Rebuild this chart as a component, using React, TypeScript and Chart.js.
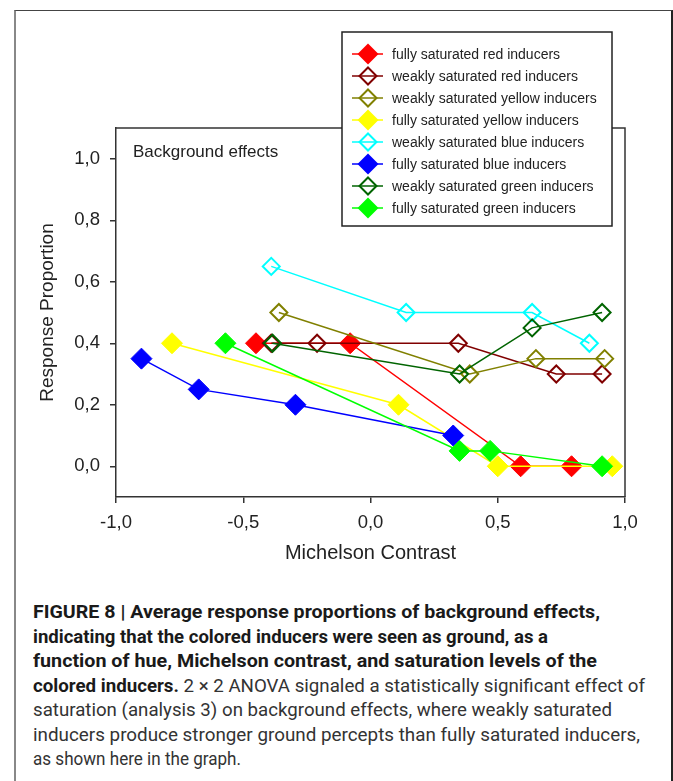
import React, { useEffect, useLayoutEffect, useRef } from 'react';
import { Chart, registerables } from 'chart.js';

Chart.register(...registerables);

// ---------- data ----------
const seriesLabels = [
  'fully saturated red inducers',
  'weakly saturated red inducers',
  'weakly saturated yellow inducers',
  'fully saturated yellow inducers',
  'weakly saturated blue inducers',
  'fully saturated blue inducers',
  'weakly saturated green inducers',
  'fully saturated green inducers',
];
const seriesColors = ['#ff0000', '#800000', '#808000', '#ffff00', '#00ffff', '#0000ff', '#006400', '#00ff00'];
const seriesFilled = [true, false, false, true, false, true, false, true];

const redFullX = [-0.45, -0.08, 0.59, 0.79];
const redFullY = [0.4, 0.4, 0.0, 0.0];
const redWeakX = [-0.39, -0.21, 0.345, 0.73, 0.91];
const redWeakY = [0.4, 0.4, 0.4, 0.3, 0.3];
const yellowWeakX = [-0.36, 0.39, 0.65, 0.92];
const yellowWeakY = [0.5, 0.3, 0.35, 0.35];
const yellowFullX = [-0.78, 0.11, 0.5, 0.95];
const yellowFullY = [0.4, 0.2, 0.0, 0.0];
const blueWeakX = [-0.39, 0.14, 0.635, 0.86];
const blueWeakY = [0.65, 0.5, 0.5, 0.4];
const blueFullX = [-0.9, -0.675, -0.295, 0.325];
const blueFullY = [0.35, 0.25, 0.2, 0.1];
const greenWeakX = [-0.385, 0.35, 0.635, 0.91];
const greenWeakY = [0.4, 0.3, 0.45, 0.5];
const greenFullX = [-0.57, 0.35, 0.47, 0.91];
const greenFullY = [0.4, 0.05, 0.05, 0.0];

const seriesX = [redFullX, redWeakX, yellowWeakX, yellowFullX, blueWeakX, blueFullX, greenWeakX, greenFullX];
const seriesY = [redFullY, redWeakY, yellowWeakY, yellowFullY, blueWeakY, blueFullY, greenWeakY, greenFullY];

const xTickValues = [-1.0, -0.5, 0.0, 0.5, 1.0];
const yTickValues = [0.0, 0.2, 0.4, 0.6, 0.8, 1.0];
const xTitle = 'Michelson Contrast';
const yTitle = 'Response Proportion';
const panelLabel = 'Background effects';

const captionLines: { bold: string; normal: string }[] = [
  { bold: 'FIGURE 8 | Average response proportions of background effects,', normal: '' },
  { bold: 'indicating that the colored inducers were seen as ground, as a', normal: '' },
  { bold: 'function of hue, Michelson contrast, and saturation levels of the', normal: '' },
  { bold: 'colored inducers.', normal: ' 2 \u00d7 2 ANOVA signaled a statistically significant effect of' },
  { bold: '', normal: 'saturation (analysis 3) on background effects, where weakly saturated' },
  { bold: '', normal: 'inducers produce stronger ground percepts than fully saturated inducers,' },
  { bold: '', normal: 'as shown here in the graph.' },
];
const captionLineWidths = [567, 515, 564, 612, 579, 607, 208];

// ---------- styling ----------
const FONT = '"Liberation Sans", Arial, Helvetica, sans-serif';
const FILLED_R = 10.5;
const OPEN_R = 8.5;

const fmt = (v: number) => (Math.abs(v) < 1e-9 ? 0 : v).toFixed(1).replace('.', ',');

function diamond(ctx: CanvasRenderingContext2D, x: number, y: number, r: number) {
  ctx.beginPath();
  ctx.moveTo(x, y - r);
  ctx.lineTo(x + r, y);
  ctx.lineTo(x, y + r);
  ctx.lineTo(x - r, y);
  ctx.closePath();
}

const decorPlugin = {
  id: 'decor',
  afterDraw(chart: any) {
    const { ctx, chartArea: ca } = chart;
    ctx.save();
    // top and right frame of the plot box
    ctx.strokeStyle = '#333';
    ctx.lineWidth = 1.5;
    ctx.beginPath();
    ctx.moveTo(ca.left, ca.top);
    ctx.lineTo(ca.right, ca.top);
    ctx.lineTo(ca.right, ca.bottom);
    ctx.stroke();

    // panel label
    ctx.fillStyle = '#222';
    ctx.font = `17px ${FONT}`;
    ctx.textBaseline = 'middle';
    ctx.textAlign = 'left';
    ctx.fillText(panelLabel, ca.left + 17, ca.top + 24);

    // legend box
    const lx = ca.left + 226;
    const ly = ca.top - 96;
    const lw = 270;
    const lh = 194;
    ctx.fillStyle = '#fff';
    ctx.fillRect(lx, ly, lw, lh);
    ctx.strokeStyle = '#222';
    ctx.lineWidth = 1.5;
    ctx.strokeRect(lx, ly, lw, lh);

    ctx.font = `14px ${FONT}`;
    seriesLabels.forEach((label, i) => {
      const cy = ly + 22 + i * 22;
      const color = seriesColors[i];
      ctx.strokeStyle = color;
      ctx.lineWidth = 1.5;
      ctx.beginPath();
      ctx.moveTo(lx + 10, cy);
      ctx.lineTo(lx + 41, cy);
      ctx.stroke();
      if (seriesFilled[i]) {
        diamond(ctx, lx + 26, cy, FILLED_R);
        ctx.fillStyle = color;
        ctx.fill();
      } else {
        diamond(ctx, lx + 26, cy, OPEN_R);
        ctx.lineWidth = 2;
        ctx.stroke();
      }
      ctx.fillStyle = '#222';
      ctx.fillText(label, lx + 50, cy + 1);
    });
    ctx.restore();
  },
};

export default function App() {
  const canvasRef = useRef<HTMLCanvasElement | null>(null);
  const lineRefs = useRef<(HTMLSpanElement | null)[]>([]);

  useEffect(() => {
    const canvas = canvasRef.current;
    if (!canvas) return;
    const datasets = seriesLabels.map((label, i) => {
      const color = seriesColors[i];
      const filled = seriesFilled[i];
      return {
        label,
        data: seriesX[i].map((x, j) => ({ x, y: seriesY[i][j] })),
        showLine: true,
        borderColor: color,
        backgroundColor: color,
        borderWidth: 1.5,
        tension: 0,
        fill: false,
        pointStyle: 'rectRot',
        pointRadius: filled ? FILLED_R : OPEN_R,
        pointHoverRadius: filled ? FILLED_R : OPEN_R,
        pointBackgroundColor: filled ? color : 'rgba(0,0,0,0)',
        pointBorderColor: color,
        pointBorderWidth: filled ? 1 : 2,
        order: seriesLabels.length - i,
      };
    });

    const chart = new Chart(canvas, {
      type: 'scatter',
      data: { datasets } as any,
      options: {
        responsive: false,
        animation: false,
        devicePixelRatio: 1,
        events: [],
        layout: { padding: { left: 0, top: 128, right: 48, bottom: 0 } },
        plugins: { legend: { display: false }, tooltip: { enabled: false } },
        scales: {
          x: {
            type: 'linear',
            min: -1,
            max: 1,
            afterBuildTicks: (s: any) => {
              s.ticks = xTickValues.map((v) => ({ value: v }));
            },
            afterFit: (s: any) => {
              s.height = 103;
            },
            ticks: {
              padding: 9,
              color: '#222',
              font: { size: 18.5, family: FONT },
              callback: (v: any) => fmt(Number(v)),
              maxRotation: 0,
            },
            grid: { display: true, drawOnChartArea: false, drawTicks: true, tickLength: 6, color: '#333', lineWidth: 1.5 },
            border: { display: true, color: '#333', width: 1.5 },
            title: {
              display: true,
              text: xTitle,
              color: '#222',
              font: { size: 20, family: FONT },
              padding: { top: 0, bottom: 35 },
            },
          },
          y: {
            type: 'linear',
            min: -0.1,
            max: 1.1,
            afterBuildTicks: (s: any) => {
              s.ticks = yTickValues.map((v) => ({ value: v }));
            },
            afterFit: (s: any) => {
              s.width = 116;
            },
            ticks: {
              padding: 10,
              color: '#222',
              font: { size: 18.5, family: FONT },
              callback: (v: any) => fmt(Number(v)),
            },
            grid: { display: true, drawOnChartArea: false, drawTicks: true, tickLength: 6, color: '#333', lineWidth: 1.5 },
            border: { display: true, color: '#333', width: 1.5 },
            title: {
              display: true,
              text: yTitle,
              color: '#222',
              font: { size: 19, family: FONT },
              padding: { top: 36, bottom: 0 },
            },
          },
        },
      } as any,
      plugins: [decorPlugin],
    });
    return () => chart.destroy();
  }, []);

  useLayoutEffect(() => {
    lineRefs.current.forEach((el, i) => {
      if (!el) return;
      el.style.transform = 'none';
      const w = el.getBoundingClientRect().width;
      if (w > 0) el.style.transform = `scaleX(${captionLineWidths[i] / w})`;
    });
  }, []);

  return (
    <div style={{ position: 'absolute', left: 0, top: 0, width: 673, height: 781, overflow: 'hidden', background: '#fff' }}>
      <div
        style={{
          position: 'absolute',
          left: 14,
          top: 10,
          width: 659,
          height: 800,
          boxSizing: 'border-box',
          borderLeft: '2px solid #888',
          borderTop: '1.5px solid #444',
          borderRight: '2px solid #222',
        }}
      />
      <canvas
        ref={canvasRef}
        width={673}
        height={600}
        style={{ position: 'absolute', left: 0, top: 0, width: 673, height: 600 }}
      />
      <div
        style={{
          position: 'absolute',
          left: 33,
          top: 600,
          fontFamily: '"Liberation Sans Narrow", Roboto, "Liberation Sans", Arial, sans-serif',
          fontSize: 18,
          lineHeight: '24.5px',
          color: '#333',
        }}
      >
        {captionLines.map((ln, i) => (
          <div key={i} style={{ whiteSpace: 'nowrap', height: 24.5 }}>
            <span
              ref={(el) => {
                lineRefs.current[i] = el;
              }}
              style={{ display: 'inline-block', transformOrigin: '0 50%' }}
            >
              {ln.bold && <b style={{ color: '#1a1a1a', fontWeight: 700 }}>{ln.bold}</b>}
              {ln.normal}
            </span>
          </div>
        ))}
      </div>
    </div>
  );
}
